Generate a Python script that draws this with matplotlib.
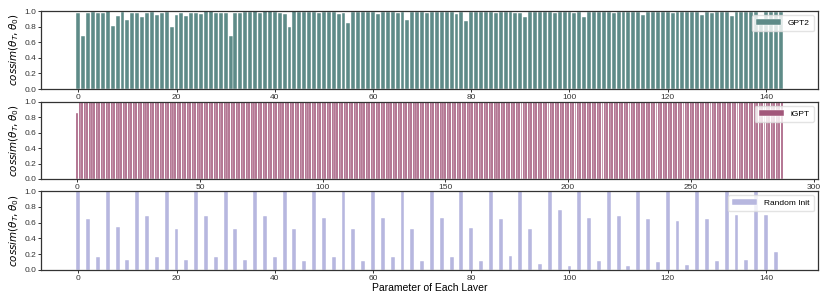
import numpy as np
import matplotlib
matplotlib.use("Agg")
from matplotlib import pyplot as plt

plt.rcParams['font.family'] = ['Liberation Sans', 'DejaVu Sans']
plt.rcParams['mathtext.fontset'] = 'dejavusans'

# cosine similarity per parameter tensor
gpt2_values = [
    0.98, 0.68, 0.98, 0.99, 0.97, 0.98, 1.00, 0.81, 0.94, 0.99, 0.89, 0.97,
    0.98, 0.93, 0.97, 0.99, 0.95, 0.98, 0.99, 0.79, 0.95, 0.97, 0.94, 0.98,
    0.98, 0.96, 1.00, 1.00, 0.97, 0.97, 0.98, 0.68, 0.98, 0.98, 0.99, 0.99,
    1.00, 0.97, 1.00, 1.00, 0.99, 0.97, 0.96, 0.79, 1.00, 0.99, 0.99, 0.99,
    0.99, 0.97, 0.99, 0.99, 0.99, 0.96, 0.98, 0.85, 0.99, 0.99, 0.99, 0.99,
    0.99, 0.96, 0.99, 0.99, 0.99, 0.97, 0.99, 0.88, 0.99, 0.99, 0.99, 0.98,
    0.99, 0.99, 0.99, 0.99, 0.99, 0.96, 0.99, 0.87, 0.99, 0.99, 0.99, 0.99,
    0.99, 0.97, 0.99, 0.99, 0.99, 0.97, 0.97, 0.92, 0.99, 0.99, 0.99, 0.99,
    0.99, 0.97, 0.99, 0.99, 0.99, 0.98, 0.99, 0.93, 0.99, 0.99, 0.99, 0.99,
    0.99, 0.98, 0.99, 0.99, 0.99, 0.99, 0.99, 0.95, 0.99, 0.99, 0.99, 0.99,
    0.99, 0.98, 0.99, 0.99, 0.99, 0.99, 0.99, 0.95, 0.99, 0.98, 0.99, 0.99,
    0.99, 0.94, 0.99, 0.99, 0.99, 0.99, 0.99, 0.90, 0.99, 0.99, 0.99, 0.99,
]

igpt_values = [0.85] + [1.0] * 287

# only even positions carry a visible bar, odd positions are ~0
random_even = [
    1.00, 0.65, 0.16, 1.00, 0.54, 0.13, 1.00, 0.68, 0.165, 1.00, 0.52, 0.13,
    1.00, 0.68, 0.165, 1.00, 0.52, 0.13, 1.00, 0.68, 0.16, 1.00, 0.52, 0.12,
    1.00, 0.66, 0.17, 1.00, 0.52, 0.12, 1.00, 0.66, 0.17, 1.00, 0.52, 0.11,
    1.00, 0.66, 0.17, 1.00, 0.53, 0.11, 1.00, 0.65, 0.18, 1.00, 0.52, 0.08,
    1.00, 0.76, 0.05, 1.00, 0.66, 0.11, 1.00, 0.68, 0.055, 1.00, 0.64, 0.10,
    1.00, 0.62, 0.065, 1.00, 0.65, 0.115, 1.00, 0.69, 0.13, 1.00, 0.70, 0.23,
]
random_values = []
for v in random_even:
    random_values += [v, 0.0]

panels = [
    (gpt2_values, "GPT2", "#5e8b88"),
    (igpt_values, "iGPT", "#a2567a"),
    (random_values, "Random Init", "#b7b7df"),
]

fig = plt.figure(figsize=(8.3, 2.91), dpi=100)
tops = [0.962, 0.6505, 0.3436]
bottoms = [0.694, 0.385, 0.0722]
left, right = 0.0494, 0.9855

for (vals, label, color), top, bot in zip(panels, tops, bottoms):
    ax = fig.add_axes([left, bot, right - left, top - bot])
    x = np.arange(len(vals))
    ax.bar(x, vals, width=0.8, color=color, label=label,
           edgecolor='white', linewidth=0.3)
    ax.set_ylim(0, 1.0)
    ax.set_yticks([0, 0.2, 0.4, 0.6, 0.8, 1.0])
    ax.set_ylabel(r"$cossim(\theta_T, \theta_0)$", fontsize=7.5, labelpad=2)
    ax.tick_params(axis='both', labelsize=6, length=2.5, width=0.7,
                   colors='#333333', pad=1)
    for s in ax.spines.values():
        s.set_color('#333333')
        s.set_linewidth(0.9)
    ax.legend(loc='upper right', fontsize=6, frameon=True, handlelength=3,
              borderpad=0.5, fancybox=True, edgecolor='#dddddd')
    if label == "Random Init":
        ax.set_xlabel("Parameter of Each Layer", fontsize=7.5, labelpad=0.5)

fig.savefig("out.png", dpi=100)
